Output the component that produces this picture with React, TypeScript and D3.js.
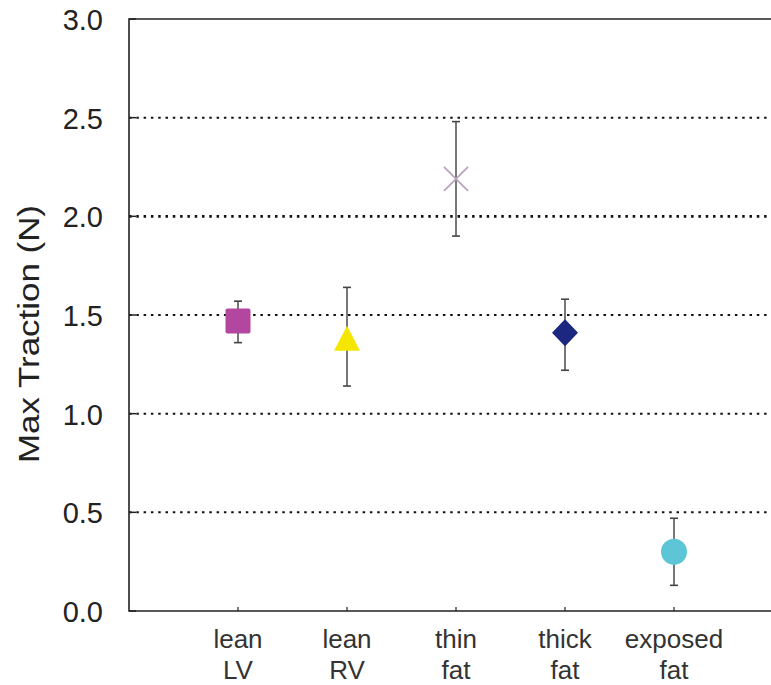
import React, { useEffect, useRef } from "react";
import * as d3 from "d3";

// categories and values
const categories = ["lean\nLV", "lean\nRV", "thin\nfat", "thick\nfat", "exposed\nfat"];
const means = [1.47, 1.38, 2.19, 1.41, 0.30];
const upper = [1.57, 1.64, 2.48, 1.58, 0.47];
const lower = [1.36, 1.14, 1.90, 1.22, 0.13];
const markers = ["square", "triangle", "cross", "diamond", "circle"];
const colors = ["#b3479f", "#f5e600", "#b9a3bd", "#1c2780", "#5cc6d6"];
const yTicks = [0, 0.5, 1, 1.5, 2, 2.5, 3];

const W = 771;
const H = 685;

export default function App() {
  const ref = useRef<SVGSVGElement>(null);

  useEffect(() => {
    const svg = d3.select(ref.current);
    svg.selectAll("*").remove();

    const left = 129, top = 19, bottom = 611;
    const x = d3.scaleLinear().domain([0, categories.length + 1]).range([left, left + 109 * 6]);
    const y = d3.scaleLinear().domain([0, 3]).range([bottom, top]);
    const font = "'Liberation Sans', Arial, sans-serif";
    const fmt = d3.format(".1f");

    // dotted gridlines
    svg.append("g")
      .selectAll("line")
      .data(yTicks.filter(d => d > 0 && d < 3))
      .join("line")
      .attr("x1", left)
      .attr("x2", W)
      .attr("y1", d => y(d))
      .attr("y2", d => y(d))
      .attr("stroke", "#111")
      .attr("stroke-width", d => (d === 2 ? 2.6 : 2))
      .attr("stroke-dasharray", "2.5 4.8");

    // y ticks + labels
    const gy = svg.append("g");
    gy.selectAll("line")
      .data(yTicks)
      .join("line")
      .attr("x1", left)
      .attr("x2", left + 7)
      .attr("y1", d => y(d))
      .attr("y2", d => y(d))
      .attr("stroke", "#222")
      .attr("stroke-width", 1.5);
    gy.selectAll("text")
      .data(yTicks)
      .join("text")
      .attr("x", 103)
      .attr("y", d => y(d) + 11)
      .attr("text-anchor", "end")
      .attr("font-family", font)
      .attr("font-size", 29)
      .attr("fill", "#222")
      .text(d => fmt(d));

    // frame: top, left, bottom
    svg.append("path")
      .attr("d", `M${W},${top}H${left}V${bottom}H${W}`)
      .attr("fill", "none")
      .attr("stroke", "#222")
      .attr("stroke-width", 1.6);

    // x axis ticks + labels
    const xs = categories.map((_, i) => x(i + 1));
    svg.append("g")
      .selectAll("line")
      .data(xs)
      .join("line")
      .attr("x1", d => d)
      .attr("x2", d => d)
      .attr("y1", bottom)
      .attr("y2", bottom - 4)
      .attr("stroke", "#222")
      .attr("stroke-width", 1.2);

    const lab = svg.append("g")
      .selectAll("text")
      .data(categories)
      .join("text")
      .attr("x", (_, i) => xs[i])
      .attr("y", 648)
      .attr("text-anchor", "middle")
      .attr("font-family", font)
      .attr("font-size", 26)
      .attr("fill", "#333");
    lab.selectAll("tspan")
      .data(d => d.split("\n"))
      .join("tspan")
      .attr("x", function () { return (this.parentNode as SVGTextElement).getAttribute("x"); })
      .attr("dy", (_, i) => (i === 0 ? 0 : 31))
      .text(d => d);

    // y title
    svg.append("text")
      .attr("transform", `translate(39,334) rotate(-90)`)
      .attr("text-anchor", "middle")
      .attr("font-family", font)
      .attr("font-size", 29)
      .attr("textLength", 258)
      .attr("lengthAdjust", "spacingAndGlyphs")
      .attr("fill", "#222")
      .text("Max Traction (N)");

    // error bars
    const eb = svg.append("g");
    categories.forEach((_, i) => {
      const cx = xs[i];
      eb.append("line")
        .attr("x1", cx).attr("x2", cx)
        .attr("y1", y(upper[i])).attr("y2", y(lower[i]))
        .attr("stroke", "#555").attr("stroke-width", 1.6);
      [upper[i], lower[i]].forEach(v => {
        eb.append("line")
          .attr("x1", cx - 4).attr("x2", cx + 4)
          .attr("y1", y(v)).attr("y2", y(v))
          .attr("stroke", "#444").attr("stroke-width", 1.6);
      });
    });

    // markers
    const mk = svg.append("g");
    categories.forEach((_, i) => {
      const m = markers[i];
      const cx = xs[i];
      const cy = y(means[i]);
      if (m === "square") {
        mk.append("rect").attr("x", cx - 12.5).attr("y", cy - 12.5).attr("width", 25).attr("height", 25)
          .attr("rx", 2).attr("fill", colors[i]);
      } else if (m === "triangle") {
        mk.append("path").attr("d", `M${cx},${cy - 13}L${cx + 13},${cy + 12}L${cx - 13},${cy + 12}Z`).attr("fill", colors[i]);
      } else if (m === "diamond") {
        mk.append("path").attr("d", `M${cx},${cy - 12.5}L${cx + 12},${cy}L${cx},${cy + 12.5}L${cx - 12},${cy}Z`)
          .attr("fill", colors[i]).attr("stroke", colors[i]).attr("stroke-width", 1.5).attr("stroke-linejoin", "round");
      } else if (m === "circle") {
        mk.append("circle").attr("cx", cx).attr("cy", cy).attr("r", 13).attr("fill", colors[i]);
      } else {
        mk.append("path").attr("d", `M${cx - 12},${cy - 12}L${cx + 12},${cy + 12}M${cx + 12},${cy - 12}L${cx - 12},${cy + 12}`)
          .attr("stroke", colors[i]).attr("stroke-width", 1.8).attr("fill", "none");
      }
    });
  }, []);

  return (
    <svg
      ref={ref}
      width={W}
      height={H}
      style={{ position: "absolute", left: 0, top: 0, background: "#fff" }}
    />
  );
}
